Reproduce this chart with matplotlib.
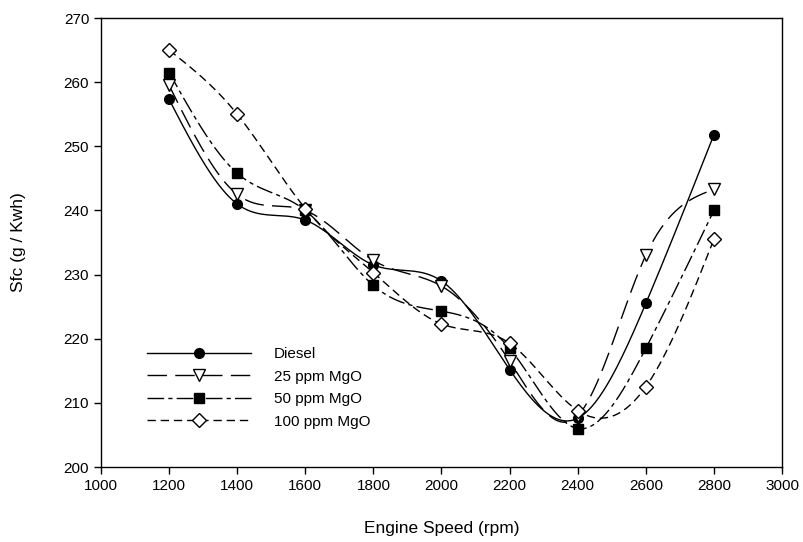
import numpy as np
import matplotlib.pyplot as plt

plt.rcParams['font.family'] = ['Liberation Sans', 'DejaVu Sans']

# Data
speed = [1200, 1400, 1600, 1800, 2000, 2200, 2400, 2600, 2800]
diesel = [257.3, 241.0, 238.5, 231.5, 229.0, 215.2, 207.6, 225.5, 251.8]
mgo_25 = [259.5, 242.5, 240.0, 232.2, 228.2, 216.5, 208.0, 233.0, 243.3]
mgo_50 = [261.5, 245.8, 240.0, 228.3, 224.3, 218.5, 206.0, 218.5, 240.0]
mgo_100 = [265.0, 255.0, 240.3, 230.3, 222.3, 219.3, 208.8, 212.5, 235.5]
labels = ['Diesel', '25 ppm MgO', '50 ppm MgO', '100 ppm MgO']


def natural_spline(x, y, n=300):
    x = np.asarray(x, float)
    y = np.asarray(y, float)
    k = len(x)
    h = np.diff(x)
    A = np.zeros((k, k))
    r = np.zeros(k)
    A[0, 0] = A[-1, -1] = 1
    for i in range(1, k - 1):
        A[i, i - 1] = h[i - 1]
        A[i, i] = 2 * (h[i - 1] + h[i])
        A[i, i + 1] = h[i]
        r[i] = 6 * ((y[i + 1] - y[i]) / h[i] - (y[i] - y[i - 1]) / h[i - 1])
    m = np.linalg.solve(A, r)
    xs = np.linspace(x[0], x[-1], n)
    j = np.clip(np.searchsorted(x, xs) - 1, 0, k - 2)
    t0 = x[j + 1] - xs
    t1 = xs - x[j]
    hj = h[j]
    ys = (m[j] * t0**3 + m[j + 1] * t1**3) / (6 * hj) \
        + (y[j] / hj - m[j] * hj / 6) * t0 + (y[j + 1] / hj - m[j + 1] * hj / 6) * t1
    return xs, ys


fig = plt.figure(figsize=(8.04, 5.42), dpi=100)
ax = fig.add_axes([101 / 804, 1 - 467 / 542, 681 / 804, 449 / 542])

series = [diesel, mgo_25, mgo_50, mgo_100]
markers = ['o', 'v', 's', 'D']
faces = ['black', 'white', 'black', 'white']
dashes = [None, (14, 6), (12, 3, 3, 3), (6, 3.5)]
msizes = [7, 8, 7, 7]

for vals, lab, mk, fc, ds, ms in zip(series, labels, markers, faces, dashes, msizes):
    xs, ys = natural_spline(speed, vals)
    ls = '-' if ds is None else (0, ds)
    ax.plot(xs, ys, color='black', lw=1, linestyle=ls)
    ax.plot(speed, vals, linestyle='none', marker=mk, markersize=ms,
            markerfacecolor=fc, markeredgecolor='black', markeredgewidth=1, zorder=3)
    # legend proxy
    ax.plot([], [], color='black', lw=1, linestyle=ls,
            marker=mk, markersize=ms, markerfacecolor=fc, markeredgecolor='black',
            label=lab)

ax.set_xlim(1000, 3000)
ax.set_ylim(200, 270)
ax.set_xticks(np.arange(1000, 3001, 200))
ax.set_yticks(np.arange(200, 271, 10))
ax.tick_params(direction='out', length=5, labelsize=11, width=1)
for s in ax.spines.values():
    s.set_linewidth(1)
ax.set_xlabel('Engine Speed (rpm)', fontsize=12.5, labelpad=20)
ax.set_ylabel('Sfc (g / Kwh)', fontsize=12.5, labelpad=27)

ax.legend(loc='lower left', bbox_to_anchor=(0.048, 0.055), frameon=False,
          handlelength=6.8, fontsize=11, labelspacing=0.55, handletextpad=1.5)

fig.savefig('out.png', dpi=100)
